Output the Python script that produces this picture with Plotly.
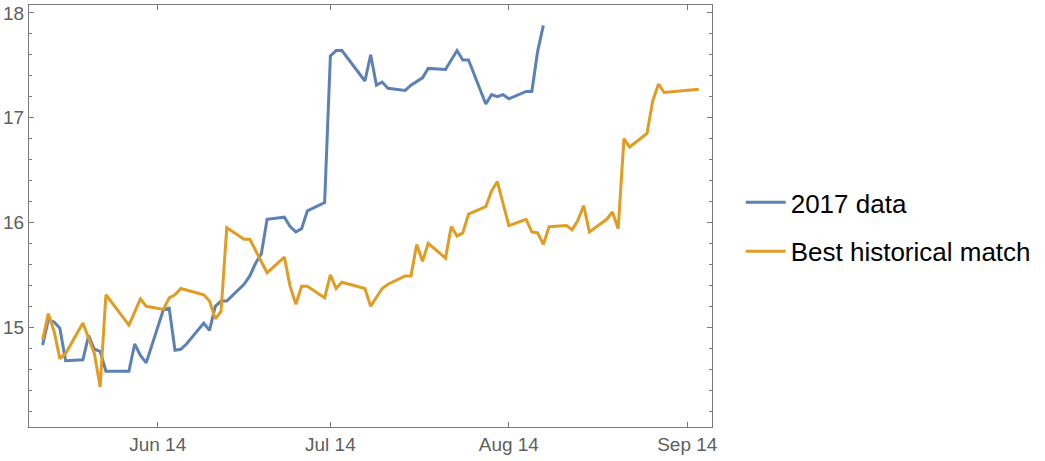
import pandas as pd
import plotly.graph_objects as go

# Anchor date; all day offsets are relative to it
anchor_date = "2017-06-14"

# 2017 data (day offset, value)
blue_days = [-20, -19, -18, -17, -16, -13, -12, -11, -10, -9, -5, -4, -3, -2, 1, 2, 3, 4, 5,
             8, 9, 10, 11, 12, 15, 16, 17, 18, 19, 22, 23, 24, 25, 26, 29, 30, 31, 32, 36,
             37, 38, 39, 40, 43, 44, 46, 47, 50, 52, 53, 54, 57, 58, 59, 60, 61, 64, 65, 66, 67]
blue_vals = [14.83, 15.07, 15.05, 14.99, 14.68, 14.69, 14.92, 14.79, 14.77, 14.58, 14.58, 14.84,
             14.73, 14.66, 15.17, 15.18, 14.78, 14.79, 14.84, 15.04, 14.97, 15.20, 15.25, 15.25,
             15.41, 15.49, 15.61, 15.70, 16.03, 16.05, 15.96, 15.91, 15.94, 16.11, 16.19, 17.59,
             17.64, 17.64, 17.35, 17.60, 17.31, 17.34, 17.28, 17.26, 17.31, 17.38, 17.47, 17.46,
             17.64, 17.55, 17.55, 17.13, 17.22, 17.20, 17.22, 17.18, 17.25, 17.25, 17.63, 17.88]

# Best historical match (day offset, value)
orange_days = [-20, -19, -18, -17, -16, -13, -11, -10, -9, -5, -3, -2, 1, 2, 3, 4, 8, 9, 10,
               11, 12, 15, 16, 19, 22, 23, 24, 25, 26, 29, 30, 31, 32, 36, 37, 38, 39, 40, 43,
               44, 45, 46, 47, 50, 51, 52, 53, 54, 57, 58, 59, 61, 64, 65, 66, 67, 68, 71, 72,
               73, 74, 75, 78, 79, 80, 81, 82, 85, 86, 87, 88, 94]
orange_vals = [14.88, 15.13, 14.96, 14.70, 14.75, 15.04, 14.75, 14.43, 15.31, 15.02, 15.27, 15.20,
               15.17, 15.28, 15.31, 15.37, 15.31, 15.25, 15.08, 15.15, 15.95, 15.84, 15.84, 15.52,
               15.67, 15.39, 15.22, 15.39, 15.39, 15.28, 15.50, 15.37, 15.43, 15.37, 15.20, 15.29,
               15.37, 15.41, 15.49, 15.49, 15.79, 15.63, 15.80, 15.66, 15.96, 15.87, 15.90, 16.08,
               16.15, 16.30, 16.39, 15.97, 16.03, 15.91, 15.90, 15.79, 15.96, 15.97, 15.93, 16.02,
               16.16, 15.91, 16.03, 16.10, 15.94, 16.80, 16.72, 16.85, 17.16, 17.32, 17.24, 17.27]

series_names = ["2017 data", "Best historical match"]
y_tick_vals = [15, 16, 17, 18]
x_tick_dates = ["2017-06-14", "2017-07-14", "2017-08-14", "2017-09-14"]
x_tick_text = ["Jun 14", "Jul 14", "Aug 14", "Sep 14"]

base = pd.Timestamp(anchor_date)
blue_dates = [base + pd.Timedelta(days=d) for d in blue_days]
orange_dates = [base + pd.Timedelta(days=d) for d in orange_days]

BLUE = "#5E81B5"
ORANGE = "#E19C24"
FRAME = "#7a7a7a"
LABEL = "#606060"

fig = go.Figure()
fig.add_trace(go.Scatter(x=blue_dates, y=blue_vals, mode="lines", name=series_names[0],
                         line=dict(color=BLUE, width=3), legendgroup="a"))
fig.add_trace(go.Scatter(x=orange_dates, y=orange_vals, mode="lines", name=series_names[1],
                         line=dict(color=ORANGE, width=3), legendgroup="b"))

axis_common = dict(showline=True, linecolor=FRAME, linewidth=1.2, mirror="ticks",
                   ticks="inside", tickcolor=FRAME, tickwidth=1, ticklen=5,
                   showgrid=False, zeroline=False,
                   tickfont=dict(family="Liberation Sans, Arial, sans-serif", size=19, color=LABEL))

fig.update_xaxes(type="date",
                 range=[base + pd.Timedelta(hours=-22.36 * 24), base + pd.Timedelta(hours=96.3 * 24)],
                 tickvals=x_tick_dates, ticktext=x_tick_text, **axis_common)
fig.update_yaxes(range=[14.048, 18.075], tickvals=y_tick_vals,
                 minor=dict(dtick=0.2, tick0=14, ticks="inside", ticklen=3, tickcolor=FRAME, tickwidth=1),
                 **axis_common)

fig.update_layout(
    width=1045, height=461,
    margin=dict(l=29, r=333, t=5, b=34, autoexpand=False),
    paper_bgcolor="white", plot_bgcolor="white",
    showlegend=True,
    legend=dict(x=1.042, y=0.474, xanchor="left", yanchor="middle", itemwidth=40,
                font=dict(family="Liberation Sans, Arial, sans-serif", size=26, color="black"),
                tracegroupgap=12, traceorder="grouped", bgcolor="rgba(0,0,0,0)"),
)

fig.write_html("out.html", config={"displayModeBar": False},
               post_script="document.body.style.margin='0px';document.body.style.padding='0px';")
